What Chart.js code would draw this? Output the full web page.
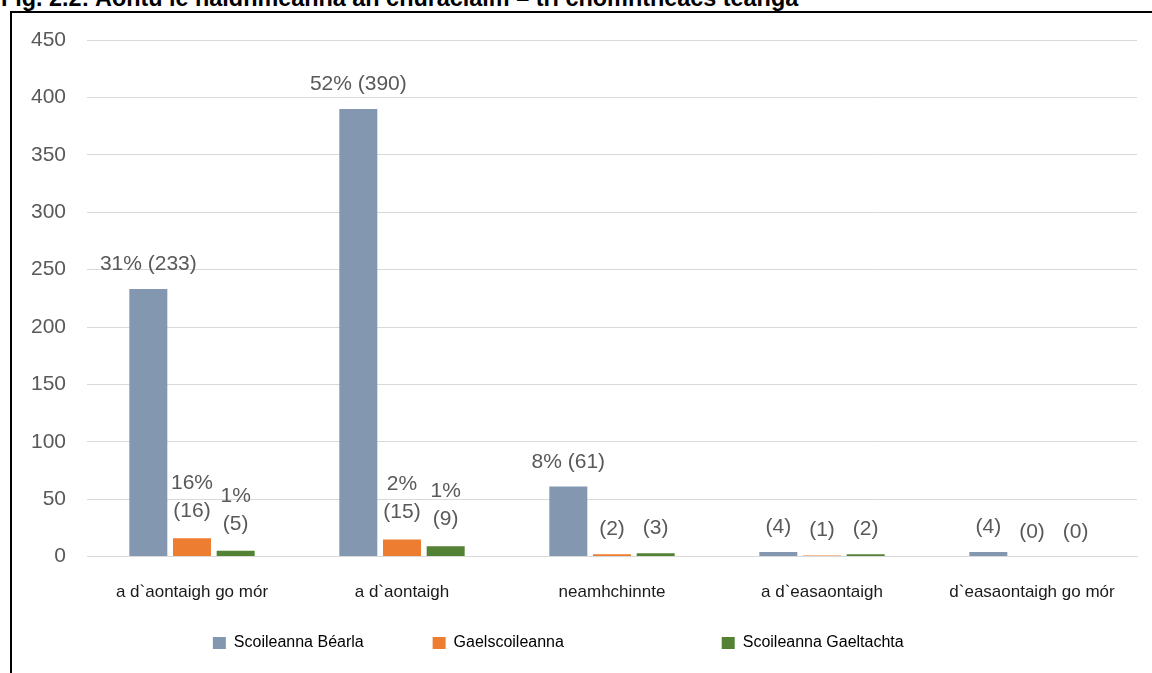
<!DOCTYPE html>
<html>
<head>
<meta charset="utf-8">
<script src="https://cdn.jsdelivr.net/npm/chart.js@4"></script>
<style>
  body { margin: 0; background: #fff; width: 1152px; height: 673px; overflow: hidden; position: relative; }
  #title { position: absolute; left: 1px; top: -13px; font: bold 23.4px/1 "Liberation Sans", Arial, sans-serif; white-space: nowrap; color: #000; }
  #frame { position: absolute; left: 10px; top: 11px; width: 1140px; height: 662px; border-top: 2px solid #000; border-left: 2px solid #000; }
  canvas { display: block; }
</style>
</head>
<body>
<div id="title">Fig. 2.2: Aontú le haidhmeanna an churaclaim – trí chomhtheacs teanga</div>
<div id="frame"><canvas id="chart" width="1140" height="660"></canvas></div>
<script>
const categories = ['a d`aontaigh go mór', 'a d`aontaigh', 'neamhchinnte', 'a d`easaontaigh', 'd`easaontaigh go mór'];
const bearla = [233, 390, 61, 4, 4];
const gaelscoileanna = [16, 15, 2, 1, 0];
const gaeltacht = [5, 9, 3, 2, 0];
const bearlaLabels = ['31% (233)', '52% (390)', '8% (61)', '(4)', '(4)'];
const gaelscoileannaLabels = ['16%\n(16)', '2%\n(15)', '(2)', '(1)', '(0)'];
const gaeltachtLabels = ['1%\n(5)', '1%\n(9)', '(3)', '(2)', '(0)'];
const yTicks = { min: 0, max: 450, step: 50 };

const fontFamily = '"Liberation Sans", Arial, sans-serif';
Chart.defaults.font.family = fontFamily;

// spaces after legend text, to spread the items like the original
const legendTrail = [11, 31, 10];

const barLabels = {
    id: 'barLabels',
    afterDatasetsDraw(chart) {
        const ctx = chart.ctx;
        ctx.save();
        ctx.font = '21px ' + fontFamily;
        ctx.fillStyle = '#595959';
        ctx.textAlign = 'center';
        ctx.textBaseline = 'alphabetic';
        chart.data.datasets.forEach((ds, i) => {
            chart.getDatasetMeta(i).data.forEach((bar, j) => {
                const lines = ds.valueLabels[j].split('\n').reverse();
                const gap = lines.length > 1 ? 21 : 19;
                lines.forEach((line, k) => {
                    ctx.fillText(line, bar.x, bar.y - gap - k * 28);
                });
            });
        });
        ctx.restore();
    }
};

let data = {
    labels: categories,
    datasets: [{
        label: 'Scoileanna Béarla',
        data: bearla,
        valueLabels: bearlaLabels,
        backgroundColor: '#8497b0',
        borderWidth: 0
    }, {
        label: 'Gaelscoileanna',
        data: gaelscoileanna,
        valueLabels: gaelscoileannaLabels,
        backgroundColor: '#ed7d31',
        borderWidth: 0
    }, {
        label: 'Scoileanna Gaeltachta',
        data: gaeltacht,
        valueLabels: gaeltachtLabels,
        backgroundColor: '#548235',
        borderWidth: 0
    }]
};

const config = {
    responsive: false,
    animation: false,
    devicePixelRatio: 1,
    layout: {
        padding: { left: 12, right: 15, top: 27, bottom: 12 }
    },
    datasets: {
        bar: {
            categoryPercentage: 0.624,
            barPercentage: 0.87
        }
    },
    scales: {
        x: {
            grid: { display: false, drawTicks: false },
            border: { display: true, color: '#d9d9d9' },
            ticks: {
                padding: 26,
                color: '#1a1a1a',
                font: { size: 17 },
                maxRotation: 0
            },
            afterFit(scale) {
                scale.height -= 14;
            }
        },
        y: {
            min: yTicks.min,
            max: yTicks.max,
            grid: { color: '#d9d9d9', drawTicks: false },
            border: { display: false },
            ticks: {
                stepSize: yTicks.step,
                padding: 21,
                color: '#595959',
                font: { size: 21 }
            },
            afterFit(scale) {
                scale.width = 63;
                scale.paddingTop = 0;
            }
        }
    },
    plugins: {
        title: { display: false },
        tooltip: { enabled: false },
        legend: {
            position: 'bottom',
            labels: {
                boxWidth: 13,
                boxHeight: 12,
                padding: 20,
                color: '#000',
                font: { size: 16 },
                generateLabels(chart) {
                    const items = Chart.defaults.plugins.legend.labels.generateLabels(chart);
                    items.forEach((it, i) => {
                        it.text = it.text + ' '.repeat(legendTrail[i]);
                        it.lineWidth = 0;
                    });
                    return items;
                }
            }
        }
    }
};

let ctxChart = document.getElementById('chart').getContext('2d');

let barChart = new Chart(ctxChart, {
    type: 'bar',
    data,
    options: config,
    plugins: [barLabels]
});
</script>
</body>
</html>
